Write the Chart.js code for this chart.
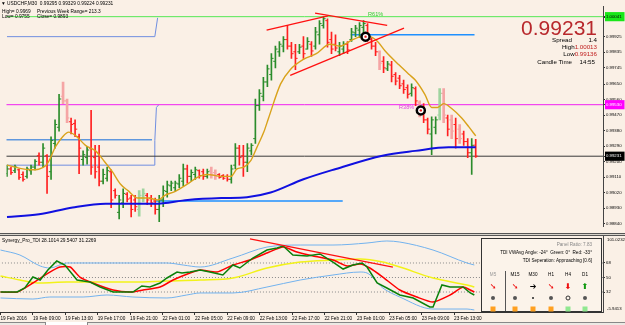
<!DOCTYPE html>
<html>
<head>
<meta charset="utf-8">
<title>USDCHF,M30</title>
<script src="https://cdn.jsdelivr.net/npm/chart.js"></script>
<style>
  body { margin: 0; background: #faf0e6; }
  #wrap { position: relative; width: 625px; height: 325px; overflow: hidden; background: #faf0e6;
          font-family: "Liberation Sans", Arial, sans-serif; color: #000; }
  canvas { position: absolute; left: 0; }
  .t { position: absolute; white-space: nowrap; line-height: 1; font-size: 4.8px; }
  .c { position: absolute; transform: translate(-50%, -50%); line-height: 1; white-space: nowrap; font-size: 4.6px; }
  .sq { position: absolute; width: 5px; height: 5px; transform: translate(-50%, -50%); }
  .dot { position: absolute; width: 4px; height: 4px; border-radius: 50%; background: #555; transform: translate(-50%, -50%); }
  .ar { font-family: "DejaVu Sans", sans-serif; font-size: 8px; font-weight: bold; }
</style>
</head>
<body>
<div id="wrap">
  <canvas id="main" width="625" height="233" style="top:0"></canvas>
  <div style="position:absolute;left:0;top:233px;width:625px;height:3px;background:#d8d4cc;border-top:1px solid #555;border-bottom:1px solid #555;box-sizing:border-box"></div>
  <canvas id="tdi" width="625" height="89" style="top:236px"></canvas>
  <div style="position:absolute;left:0;top:322px;width:625px;height:3px;background:#ece9e4;border-top:1px solid #888;box-sizing:border-box"></div>
  <div style="position:absolute;left:45px;top:322px;width:43px;height:3px;background:#fff;border-left:1px solid #888;border-right:1px solid #888;box-sizing:border-box"></div>

  <!-- header texts -->
  <div class="t" style="left:1px;top:1.5px">&#9660; USDCHF,M30&nbsp; 0.99295 0.99329 0.99224 0.99231</div>
  <div class="t" style="left:2px;top:9.5px">High= 0.9969</div>
  <div class="t" style="left:37px;top:9.5px">Previous Week Range= 213.3</div>
  <div class="t" style="left:2px;top:15px">Low= 0.9755</div>
  <div class="t" style="left:37px;top:15px">Close= 0.9893</div>

  <!-- price box -->
  <div class="t" style="right:28px;top:17px;font-size:21px;color:#b8282c">0.99231</div>
  <div class="t" style="right:53px;top:37px;font-size:6.2px">Spread</div>
  <div class="t" style="right:28px;top:37px;font-size:6.2px">1.4</div>
  <div class="t" style="right:28px;top:44px;font-size:6.2px">High<span style="color:#c02020">1.00013</span></div>
  <div class="t" style="right:28px;top:51px;font-size:6.2px">Low<span style="color:#c02020">0.99136</span></div>
  <div class="t" style="right:53px;top:59px;font-size:6.2px">Candle Time</div>
  <div class="t" style="right:30px;top:59px;font-size:6.2px">14:55</div>

  <div class="t" style="left:368px;top:11.5px;font-size:5.6px;color:#33cc33">R61%</div>
  <div class="t" style="left:399px;top:105px;font-size:5.6px;color:#e040e0">R38%</div>

  <!-- TDI window texts -->
  <div class="t" style="left:2px;top:238.5px">Synergy_Pro_TDI 28.1014 29.5407 31.2269</div>
  <div class="t" style="left:607px;top:238px;font-size:4.3px">101.0232</div>
  <div class="t" style="left:607px;top:307px;font-size:4.3px">-5.9413</div>

  <div style="position:absolute;left:481px;top:238px;width:121px;height:74px;border:1px solid #333;box-sizing:border-box;background:#fbf3ea"></div>
  <div class="t" style="right:33px;top:242.5px;font-size:4.6px;color:#888">Panel Ratio: 7.83</div>
  <div class="t" style="right:33px;top:250.5px;font-size:4.6px">TDI VWAvg Angle: -24&deg;&nbsp; Green: 0&deg;&nbsp; Red: -33&deg;</div>
  <div class="t" style="right:33px;top:258.5px;font-size:4.6px">TDI Seperation: Approaching [0.6]</div>
  <div style="position:absolute;left:505px;top:271px;width:1px;height:40px;background:#555"></div>

  <div class="c" style="left:493px;top:275px;color:#999">M5</div>
  <div class="c" style="left:515px;top:275px">M15</div>
  <div class="c" style="left:533px;top:275px">M30</div>
  <div class="c" style="left:551px;top:275px">H1</div>
  <div class="c" style="left:568px;top:275px">H4</div>
  <div class="c" style="left:585px;top:275px">D1</div>

  <div class="c ar" style="left:493px;top:287px;color:#ee1111">&#10136;</div>
  <div class="c ar" style="left:515px;top:287px;color:#ee1111">&#10136;</div>
  <div class="c ar" style="left:533px;top:287px;color:#000">&#10132;</div>
  <div class="c ar" style="left:551px;top:287px;color:#ee1111">&#10136;</div>
  <div class="c ar" style="left:568px;top:287px;color:#ee1111">&#11015;</div>
  <div class="c ar" style="left:585px;top:287px;color:#119911">&#11014;</div>

  <div class="dot" style="left:493px;top:298px"></div>
  <div class="dot" style="left:515px;top:298px"></div>
  <div class="dot" style="left:533px;top:298px;width:2px;height:2px;background:#222"></div>
  <div class="dot" style="left:551px;top:298px"></div>
  <div class="dot" style="left:568px;top:298px;width:5px;height:5px;background:none;border:1.2px solid #333;box-sizing:border-box"></div>
  <div class="dot" style="left:585px;top:298px"></div>

  <div class="sq" style="left:493px;top:309px;background:#ffa020"></div>
  <div class="sq" style="left:515px;top:309px;background:#ffa020"></div>
  <div class="sq" style="left:533px;top:309px;background:#ffa020"></div>
  <div class="sq" style="left:551px;top:309px;background:#ffa020"></div>
  <div class="sq" style="left:568px;top:309px;background:#90e890"></div>
  <div class="sq" style="left:585px;top:309px;background:#90e890"></div>
</div>

<script>
// USDCHF M30 bars, one per 30 minutes from 19 Feb 2016 05:00
var opens = [0.99130,0.99157,0.99147,0.99152,0.99125,0.99114,0.99147,0.99168,0.99234,0.99196,
  0.99234,0.99141,0.99305,0.99399,0.99579,0.99552,0.99431,0.99421,0.99344,0.99212,
  0.99223,0.99278,0.99223,0.99168,0.99086,0.99103,0.99141,0.99031,0.98905,0.98960,
  0.99010,0.98988,0.98977,0.98922,0.98988,0.99004,0.98988,0.98971,0.98922,0.98977,
  0.99026,0.99059,0.99048,0.99070,0.99086,0.99157,0.99114,0.99125,0.99147,0.99141,
  0.99114,0.99147,0.99136,0.99125,0.99119,0.99114,0.99097,0.99179,0.99278,0.99234,
  0.99196,0.99262,0.99333,0.99525,0.99579,0.99662,0.99705,0.99782,0.99837,0.99870,
  0.99908,0.99870,0.99837,0.99837,0.99870,0.99853,0.99881,0.99870,0.99936,0.99990,
  1.00018,0.99908,0.99881,0.99837,0.99853,0.99881,0.99908,0.99947,0.99963,0.99979,
  0.99990,0.99908,0.99870,0.99837,0.99782,0.99738,0.99760,0.99705,0.99684,0.99651,
  0.99629,0.99596,0.99623,0.99541,0.99508,0.99442,0.99360,0.99399,0.99470,0.99596,
  0.99453,0.99442,0.99415,0.99388,0.99360,0.99316,0.99251,0.99295];
var highs = [0.99179,0.99168,0.99179,0.99157,0.99141,0.99168,0.99179,0.99212,0.99251,0.99305,
  0.99240,0.99344,0.99442,0.99590,0.99662,0.99563,0.99453,0.99442,0.99360,0.99262,
  0.99289,0.99497,0.99294,0.99294,0.99157,0.99168,0.99152,0.99042,0.99004,0.99042,
  0.99020,0.99004,0.99004,0.99031,0.99042,0.99015,0.99004,0.98988,0.99004,0.99059,
  0.99086,0.99086,0.99086,0.99125,0.99185,0.99179,0.99152,0.99168,0.99152,0.99157,
  0.99157,0.99168,0.99152,0.99130,0.99125,0.99125,0.99179,0.99305,0.99294,0.99294,
  0.99305,0.99305,0.99563,0.99618,0.99689,0.99760,0.99826,0.99870,0.99897,0.99925,
  0.99990,0.99892,0.99881,0.99881,0.99925,0.99919,0.99897,0.99979,1.00018,1.00041,
  1.00029,0.99952,0.99936,0.99892,0.99897,0.99897,0.99974,0.99990,1.00007,1.00018,
  1.00001,0.99919,0.99892,0.99842,0.99810,0.99782,0.99782,0.99716,0.99700,0.99673,
  0.99645,0.99651,0.99634,0.99552,0.99536,0.99453,0.99459,0.99459,0.99623,0.99623,
  0.99470,0.99470,0.99453,0.99415,0.99377,0.99333,0.99333,0.99329];
var lows = [0.99114,0.99125,0.99136,0.99097,0.99086,0.99103,0.99125,0.99152,0.99179,0.99168,
  0.99015,0.99097,0.99278,0.99377,0.99536,0.99426,0.99360,0.99344,0.99130,0.99179,
  0.99185,0.99125,0.99103,0.99059,0.99070,0.99086,0.98933,0.98988,0.98867,0.98933,
  0.98966,0.98878,0.98911,0.98883,0.98966,0.98949,0.98938,0.98894,0.98851,0.98938,
  0.98993,0.99031,0.99026,0.99048,0.99059,0.99075,0.99086,0.99097,0.99103,0.99097,
  0.99103,0.99103,0.99097,0.99103,0.99097,0.99086,0.99075,0.99157,0.99179,0.99114,
  0.99141,0.99240,0.99305,0.99497,0.99552,0.99634,0.99673,0.99744,0.99810,0.99837,
  0.99853,0.99799,0.99733,0.99826,0.99799,0.99853,0.99810,0.99853,0.99881,0.99974,
  0.99864,0.99826,0.99842,0.99815,0.99826,0.99826,0.99897,0.99925,0.99919,0.99936,
  0.99897,0.99853,0.99815,0.99733,0.99716,0.99727,0.99662,0.99645,0.99623,0.99596,
  0.99568,0.99579,0.99525,0.99459,0.99426,0.99360,0.99240,0.99360,0.99442,0.99426,
  0.99349,0.99333,0.99278,0.99305,0.99294,0.99223,0.99125,0.99224];
var closes = [0.99157,0.99136,0.99168,0.99108,0.99097,0.99157,0.99168,0.99201,0.99196,0.99278,
  0.99114,0.99322,0.99415,0.99563,0.99552,0.99453,0.99415,0.99388,0.99278,0.99240,
  0.99267,0.99168,0.99141,0.99086,0.99125,0.99147,0.98977,0.99004,0.98977,0.99015,
  0.98982,0.98922,0.98938,0.99004,0.99015,0.98977,0.98960,0.98922,0.98977,0.99031,
  0.99064,0.99075,0.99075,0.99103,0.99157,0.99114,0.99136,0.99152,0.99119,0.99114,
  0.99141,0.99125,0.99114,0.99108,0.99103,0.99097,0.99157,0.99278,0.99223,0.99196,
  0.99278,0.99294,0.99525,0.99596,0.99662,0.99738,0.99799,0.99853,0.99881,0.99908,
  0.99870,0.99826,0.99799,0.99864,0.99826,0.99897,0.99842,0.99952,1.00001,1.00029,
  0.99892,0.99853,0.99859,0.99870,0.99881,0.99848,0.99952,0.99974,0.99990,1.00001,
  0.99919,0.99870,0.99837,0.99771,0.99744,0.99766,0.99695,0.99667,0.99640,0.99618,
  0.99590,0.99629,0.99552,0.99486,0.99442,0.99388,0.99442,0.99442,0.99596,0.99470,
  0.99388,0.99377,0.99333,0.99333,0.99316,0.99251,0.99294,0.99231];
// bars drawn in the pale shade
var fadeBars = [14, 15, 33, 34, 51, 52, 93, 103, 108, 109, 111, 113];

// moving averages (bar index, price)
var emaIdx = [0,6,9.8,12.2,13.9,15.4,17.2,19.6,22.1,24.1,26.3,28.3,30.2,32.7,35.2,37.7,39.4,41.9,45.1,47.5,
  50,53.5,55.9,57.4,59.1,60.9,62.3,64.1,65.3,68.3,70.7,74,77.2,80.6,83.1,86.3,88.8,90.5,92.5,94.4,
  97.9,100.4,101.9,104.3,106,107.5,109,111,113.5,115.2,117];
var emaVal = [0.99179,0.99152,0.99179,0.99289,0.99344,0.99371,0.99349,0.99294,0.99262,0.99207,
  0.99141,0.99070,0.99031,0.98988,0.98988,0.98977,0.99004,0.99026,0.99070,0.99108,
  0.99125,0.99114,0.99114,0.99157,0.99168,0.99207,0.99278,0.99371,0.99453,0.99651,
  0.99733,0.99793,0.99826,0.99881,0.99870,0.99908,0.99925,0.99925,0.99897,0.99842,
  0.99760,0.99705,0.99673,0.99590,0.99514,0.99514,0.99536,0.99508,0.99453,0.99404,0.99349];
var smaIdx = [0,8,16.4,24.6,36.9,45.1,53.5,59.9,65.8,74,82.1,93.7,101.9,110.2,117];
var smaVal = [0.98878,0.98894,0.98933,0.98955,0.98955,0.98977,0.98988,0.98993,0.99020,0.99097,
  0.99157,0.99234,0.99262,0.99283,0.99283];

// levels and drawn objects
var greenLevel = 1.00041;
var fiboLevel = 0.99530;
var bidPrice = 0.99231;
var yHighLevel = 0.99327;
var dayHighIdx = [0, 36.9, 37.6];
var dayHighVal = [0.99925, 0.99925, 1.00034];
var dayLowIdx = [0, 36.9, 36.9, 37.3, 37.9];
var dayLowVal = [0.99179, 0.99179, 0.99322, 0.99514, 0.99530];
var supportLine = {x: [36.9, 83.8], y: [0.98971, 0.98971]};
var resistLine = {x: [85.8, 116.7], y: [0.99936, 0.99936]};
var trendA = {x: [64.8, 80.1], y: [0.99963, 1.00045]};
var trendB = {x: [76.9, 94.9], y: [1.00062, 0.99990]};
var trendC = {x: [70.7, 99.1], y: [0.99700, 0.99974]};
var signIdx = [89.5, 103.3];
var signVal = [0.99925, 0.99497];

// price scale labels
var priceTicks = [1.00035, 0.99925, 0.99835, 0.99745, 0.99650, 0.99560, 0.99470, 0.99380,
  0.99290, 0.99200, 0.99110, 0.99020, 0.98930, 0.98840];

// TDI window (bar index, value)
var tdiGreenIdx = [0,4.1,6,8,9.8,11.7,13.9,15.9,18.9,22.1,24.6,27.8,31.2,32.7,34.9,36.9,39.4,41.1,43.6,44.8,
  46.8,49.3,51.7,54.9,57.4,59.1,62.3,65.8,68.3,69.8,72.2,75.7,78.9,82.1,84.6,87,89.3,90.5,93,95.4,
  98.6,101.9,106,106.8,109,111,114.2,116,117];
var tdiGreenVal = [32,32,37,50.6,46.9,59.3,70.5,65.5,46.9,44.4,38.2,32,32,32,39.5,38.2,43.2,49.4,56.8,55.6,
  56.8,59.3,56.8,53.1,65.5,61.8,74.2,84.1,86.6,89.1,77.9,76.7,79.2,69.2,60.5,65.5,68,63,43.2,37,
  28.3,24.6,13.4,13.4,40.7,38.2,38.2,30.8,28.3];
var tdiRedIdx = [0,4.1,8,12.2,14.7,17.2,19.6,22.8,27.8,32,35.2,39.4,42.6,46.8,49.3,53.5,57.4,61.6,65.8,69.8,
  73.2,77.2,82.1,85.6,88.8,91.2,94.4,98.6,102.8,106.8,111,114.2,116,117];
var tdiRedVal = [32,32,43.2,56.8,63,63,50.6,43.2,34.5,32,34.5,38.2,46.9,55.6,59.3,56.8,65.5,71.7,80.4,87.8,
  81.6,76.7,71.7,64.3,66.7,61.8,50.6,34.5,25.8,19.6,28.3,38.2,34.5,32];
var tdiBaseIdx = [0,4.8,9.8,16.4,24.6,32.7,41.1,49.3,57.4,65.8,74,82.1,88.8,94.4,98.6,106.8,115.2,117];
var tdiBaseVal = [51.9,46.9,43.2,44.4,44.4,44.4,45.7,46.9,49.4,61.8,69.2,71.7,73,69.2,63,49.4,40.7,38.2];
var bandUpIdx = [0,4.8,9.8,12.2,16.4,24.6,32.7,41.1,45.1,49.3,57.4,65.8,74,82.1,90.5,95.4,98.6,106.8,115.2,117];
var bandUpVal = [84.1,77.9,64.3,61.8,68,68,68,68,65.5,63,74.2,87.8,90.3,90.3,92.8,95.3,94,84.1,68,65.5];
var bandDnIdx = [0,8,12.2,20.4,26.3,32.7,41.1,46,49.3,57.4,65.8,74,82.1,88.8,90.5,94.4,98.6,106.8,115.2,117];
var bandDnVal = [24.6,23.3,25.8,25.8,28.3,25.8,24.6,28.3,30.8,30.8,38.2,46.9,53.1,56.8,55.6,37,25.8,10.9,10.9,9.7];
var tdiLevels = [68, 50, 32];
var tdiTrend = {x: [61.6, 96.9], y: [97.8, 63.0]};

// time axis
var timeIdx = [0, 8, 16, 24, 32, 40, 48, 56, 64, 72, 80, 88, 96, 104, 112];
var timeLabels = ['19 Feb 2016', '19 Feb 09:00', '19 Feb 13:00', '19 Feb 17:00', '19 Feb 21:00',
  '22 Feb 01:00', '22 Feb 05:00', '22 Feb 09:00', '22 Feb 13:00', '22 Feb 17:00', '22 Feb 21:00',
  '23 Feb 01:00', '23 Feb 05:00', '23 Feb 09:00', '23 Feb 13:00'];

Chart.defaults.font.family = '"Liberation Sans", Arial, sans-serif';
Chart.defaults.color = '#000';

var X_MIN = -0.12, X_MAX = 148.77;

function pts(ix, vals) { return ix.map(function (x, k) { return {x: x, y: vals[k]}; }); }
function flat(v) { return [{x: X_MIN - 1, y: v}, {x: X_MAX + 1, y: v}]; }
function line(data, color, width, extra) {
  var d = {type: 'line', data: data, borderColor: color, borderWidth: width, pointRadius: 0, fill: false, tension: 0};
  for (var k in extra) d[k] = extra[k];
  return d;
}

var allIdx = opens.map(function (_, i) { return i; });
var solid = allIdx.filter(function (i) { return fadeBars.indexOf(i) < 0; });
var pale = allIdx.filter(function (i) { return fadeBars.indexOf(i) >= 0; });
function up(i) { return closes[i] >= opens[i]; }
function col(i) {
  if (fadeBars.indexOf(i) >= 0) return up(i) ? '#9fd49f' : '#f5a5a5';
  return up(i) ? '#2b8c2b' : '#ff2020';
}
function rangeData(ix) { return ix.map(function (i) { return {x: i, y: [lows[i], highs[i]]}; }); }
function tickData(ix, arr, dx) { return ix.map(function (i) { return {x: i + dx, y: arr[i]}; }); }
function tickSet(ix, arr, dx) {
  return {type: 'scatter', data: tickData(ix, arr, dx), pointStyle: 'line', pointRadius: 1.1,
    pointBorderWidth: 1, pointBorderColor: ix.map(col), pointBackgroundColor: ix.map(col)};
}

var marks = {};
marks[greenLevel] = ['#19e619', '#000'];
marks[fiboLevel] = ['#ff00ff', '#fff'];
marks[bidPrice] = ['#000', '#fff'];

new Chart(document.getElementById('main'), {
  data: {
    datasets: [
      {type: 'scatter', data: pts(signIdx, signVal), pointRadius: 1.2, pointBorderWidth: 0,
        pointBackgroundColor: '#e02020'},
      {type: 'scatter', data: pts(signIdx, signVal), pointRadius: 4, pointBorderWidth: 2.5,
        pointBorderColor: '#000', pointBackgroundColor: '#fff'},
      line(pts(trendA.x, trendA.y), '#ff1010', 1.3),
      line(pts(trendB.x, trendB.y), '#ff1010', 1.3),
      line(pts(trendC.x, trendC.y), '#ff1010', 1.3),
      line(pts(emaIdx, emaVal), '#d9a21b', 1.4, {cubicInterpolationMode: 'monotone'}),
      line(pts(smaIdx, smaVal), '#1010e0', 2, {cubicInterpolationMode: 'monotone'}),
      tickSet(solid, opens, -0.27),
      tickSet(solid, closes, 0.27),
      {type: 'bar', data: rangeData(solid), backgroundColor: solid.map(col), barThickness: 1, grouped: false},
      tickSet(pale, opens, -0.3),
      tickSet(pale, closes, 0.3),
      {type: 'bar', data: rangeData(pale), backgroundColor: pale.map(col), barThickness: 2, grouped: false},
      line(flat(greenLevel), '#55e855', 1),
      line(flat(fiboLevel), '#f020f0', 1),
      line(flat(bidPrice), '#3a3a3a', 1),
      line([{x: X_MIN - 1, y: yHighLevel}, {x: 36.2, y: yHighLevel}], '#5f97dd', 1.5),
      line(pts(dayHighIdx, dayHighVal), '#6f8ee0', 1),
      line(pts(dayLowIdx, dayLowVal), '#6f8ee0', 1),
      line(pts(supportLine.x, supportLine.y), '#1e90ff', 1.5),
      line(pts(resistLine.x, resistLine.y), '#1e90ff', 1.5)
    ]
  },
  options: {
    responsive: false, animation: false, devicePixelRatio: 1,
    layout: {padding: 0},
    plugins: {legend: {display: false}, tooltip: {enabled: false}},
    scales: {
      x: {type: 'linear', min: X_MIN, max: X_MAX, display: false, offset: false, grid: {offset: false}},
      y: {
        position: 'right', min: 0.98823, max: 1.00100,
        afterBuildTicks: function (s) {
          s.ticks = priceTicks.concat([greenLevel, fiboLevel, bidPrice]).map(function (v) { return {value: v}; });
        },
        afterFit: function (s) { s.width = 22; s.paddingTop = 0; s.paddingBottom = 0; },
        border: {color: '#444'},
        grid: {drawOnChartArea: false, tickLength: 2, tickColor: '#333'},
        ticks: {
          autoSkip: false, padding: 1, font: {size: 4.3},
          callback: function (v) { return Number(v).toFixed(5); },
          color: function (c) { var m = marks[c.tick.value]; return m ? m[1] : '#000'; },
          showLabelBackdrop: function (c) { return !!marks[c.tick.value]; },
          backdropColor: function (c) { var m = marks[c.tick.value]; return m ? m[0] : 'rgba(0,0,0,0)'; },
          backdropPadding: {left: 1, right: 3, top: 2, bottom: 2}
        }
      }
    }
  }
});

new Chart(document.getElementById('tdi'), {
  data: {
    datasets: [
      line(pts(tdiTrend.x, tdiTrend.y), '#ff1010', 1.3),
      line(pts(tdiGreenIdx, tdiGreenVal), '#0a800a', 1.5),
      line(pts(tdiRedIdx, tdiRedVal), '#ff0000', 1.5, {tension: 0.2}),
      line(pts(tdiBaseIdx, tdiBaseVal), '#f2f21a', 1.5, {cubicInterpolationMode: 'monotone'}),
      line(pts(bandUpIdx, bandUpVal), '#72b2ee', 1, {cubicInterpolationMode: 'monotone'}),
      line(pts(bandDnIdx, bandDnVal), '#72b2ee', 1, {cubicInterpolationMode: 'monotone'})
    ].concat(tdiLevels.map(function (v) {
      return line(flat(v), '#8a8a8a', 1, {borderDash: [1, 2]});
    }))
  },
  options: {
    responsive: false, animation: false, devicePixelRatio: 1,
    layout: {padding: 0},
    plugins: {legend: {display: false}, tooltip: {enabled: false}},
    scales: {
      x: {
        type: 'linear', min: X_MIN, max: X_MAX, position: 'bottom', offset: false,
        afterBuildTicks: function (s) { s.ticks = timeIdx.map(function (v) { return {value: v}; }); },
        afterFit: function (s) { s.height = 13; s.paddingLeft = 0; s.paddingRight = 0; },
        border: {color: '#333'},
        grid: {drawOnChartArea: false, tickLength: 3, tickColor: '#333'},
        ticks: {
          autoSkip: false, maxRotation: 0, align: 'start', padding: 1, font: {size: 4.7},
          callback: function (v, i) { return timeLabels[i]; }
        }
      },
      y: {
        position: 'right', min: 7.2, max: 101.5,
        afterBuildTicks: function (s) { s.ticks = tdiLevels.map(function (v) { return {value: v}; }); },
        afterFit: function (s) { s.width = 22; s.paddingTop = 0; s.paddingBottom = 0; },
        border: {color: '#444'},
        grid: {drawOnChartArea: false, tickLength: 2, tickColor: '#333'},
        ticks: {autoSkip: false, padding: 1, font: {size: 4.3}}
      }
    }
  }
});
</script>
</body>
</html>
